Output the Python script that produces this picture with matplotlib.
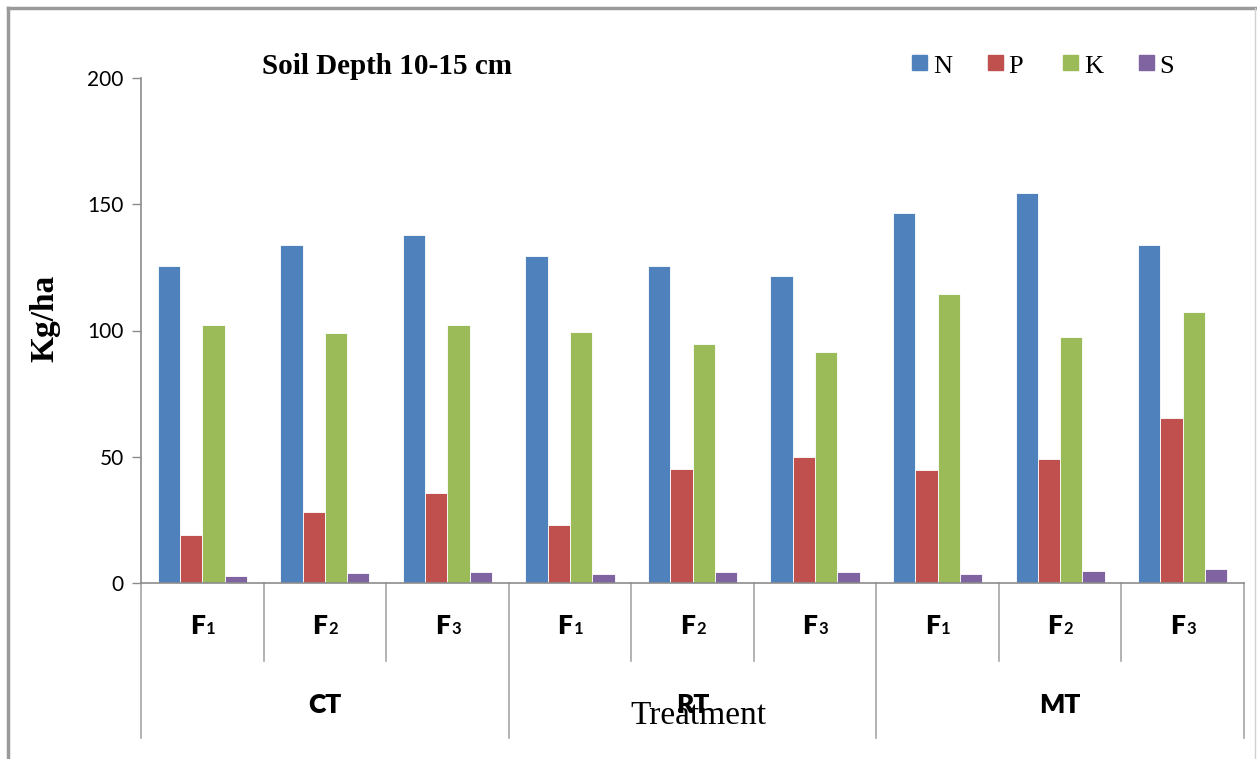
import numpy as np
import matplotlib.pyplot as plt
from matplotlib.patches import Rectangle
from matplotlib.lines import Line2D
import matplotlib.transforms as mtransforms

# Nutrient content (Kg/ha) at 10-15 cm depth
tillage = ['CT', 'RT', 'MT']
fert = ['1', '2', '3']
nutrients = ['N', 'P', 'K', 'S']
N = [125.4, 134.0, 138.0, 129.4, 125.4, 121.4, 146.6, 154.5, 133.9]
P = [18.9, 28.1, 35.5, 22.9, 45.2, 49.8, 44.6, 49.2, 65.2]
K = [102.0, 99.0, 102.0, 99.6, 94.6, 91.5, 114.4, 97.4, 107.5]
S = [2.9, 4.1, 4.5, 3.5, 4.5, 4.5, 3.5, 4.6, 5.7]
colors = ['#4F81BD', '#C0504D', '#9BBB59', '#8064A2']

W, H = 1257, 759
fig = plt.figure(figsize=(W / 100, H / 100), dpi=100)
ax = fig.add_axes([141 / W, 1 - 583 / H, (1244 - 141) / W, (583 - 78) / H])

serif = 'Liberation Serif'
sans = 'Lato'
grey = '#8c8c8c'

x = np.arange(len(N))
width = 1 / 5.5
for i, vals in enumerate([N, P, K, S]):
    ax.bar(x + (i - 1.5) * width, vals, width, color=colors[i],
           edgecolor='#ffffff', linewidth=0.6, label=nutrients[i])

ax.set_xlim(-0.5, len(N) - 0.5)
ax.set_ylim(0, 200)
ax.set_yticks([0, 50, 100, 150, 200])
ax.tick_params(axis='y', direction='out', length=6.5, width=1, color=grey,
               labelsize=15, pad=6)
for lab in ax.get_yticklabels():
    lab.set_fontfamily(sans)
ax.set_xticks([])
for s in ['top', 'right']:
    ax.spines[s].set_visible(False)
for s in ['left', 'bottom']:
    ax.spines[s].set_color(grey)
    ax.spines[s].set_linewidth(1.2)

# two-level category axis under the bars
trans = mtransforms.blended_transform_factory(ax.transData, ax.transAxes)
for b in np.arange(-0.5, len(N), 1.0):
    low = -0.307 if (b + 0.5) % 3 == 0 else -0.1545
    ax.add_line(Line2D([b, b], [0, low], transform=trans, color='#a6a6a6',
                       lw=1.2, clip_on=False))
for i in range(len(N)):
    ax.text(x[i] + 0.02, -0.101, 'F', transform=trans, ha='right', va='baseline',
            fontsize=19, fontweight='heavy', family=sans)
    ax.text(x[i] + 0.03, -0.101, fert[i % 3], transform=trans, ha='left',
            va='baseline', fontsize=12, fontweight='bold', family=sans)
for g, name in enumerate(tillage):
    ax.text(3 * g + 1, -0.2568, name, transform=trans, ha='center',
            va='baseline', fontsize=19, fontweight='heavy', family=sans)

ax.text(4.05, -0.279, 'Treatment', transform=trans, ha='center', va='baseline',
        fontsize=24, family=serif)
fig.text(45 / W, 1 - 318 / H, 'Kg/ha', rotation=90, ha='center', va='center',
         fontsize=24, fontweight='bold', family=serif)
fig.text(262 / W, 1 - 74 / H, 'Soil Depth 10-15 cm', ha='left', va='baseline',
         fontsize=21, fontweight='bold', family=serif)

# legend row
for i, name in enumerate(nutrients):
    x0 = 912 + i * 75.5
    fig.patches.append(Rectangle((x0 / W, 1 - 70 / H), 15 / W, 15 / H,
                                 transform=fig.transFigure, color=colors[i]))
    fig.text((x0 + 21) / W, 1 - 73 / H, name, ha='left', va='baseline',
             fontsize=19, family=serif)

# chart frame
fig.add_artist(Line2D([8 / W, 8 / W], [0, 1 - 8 / H], transform=fig.transFigure,
                      color='#9a9a9a', lw=2.5))
fig.add_artist(Line2D([8 / W, 1], [1 - 8 / H, 1 - 8 / H], transform=fig.transFigure,
                      color='#9a9a9a', lw=2.5))
fig.add_artist(Line2D([1255 / W, 1255 / W], [0, 1 - 8 / H], transform=fig.transFigure,
                      color='#d0d0d0', lw=1))

fig.savefig('out.png', dpi=100)
